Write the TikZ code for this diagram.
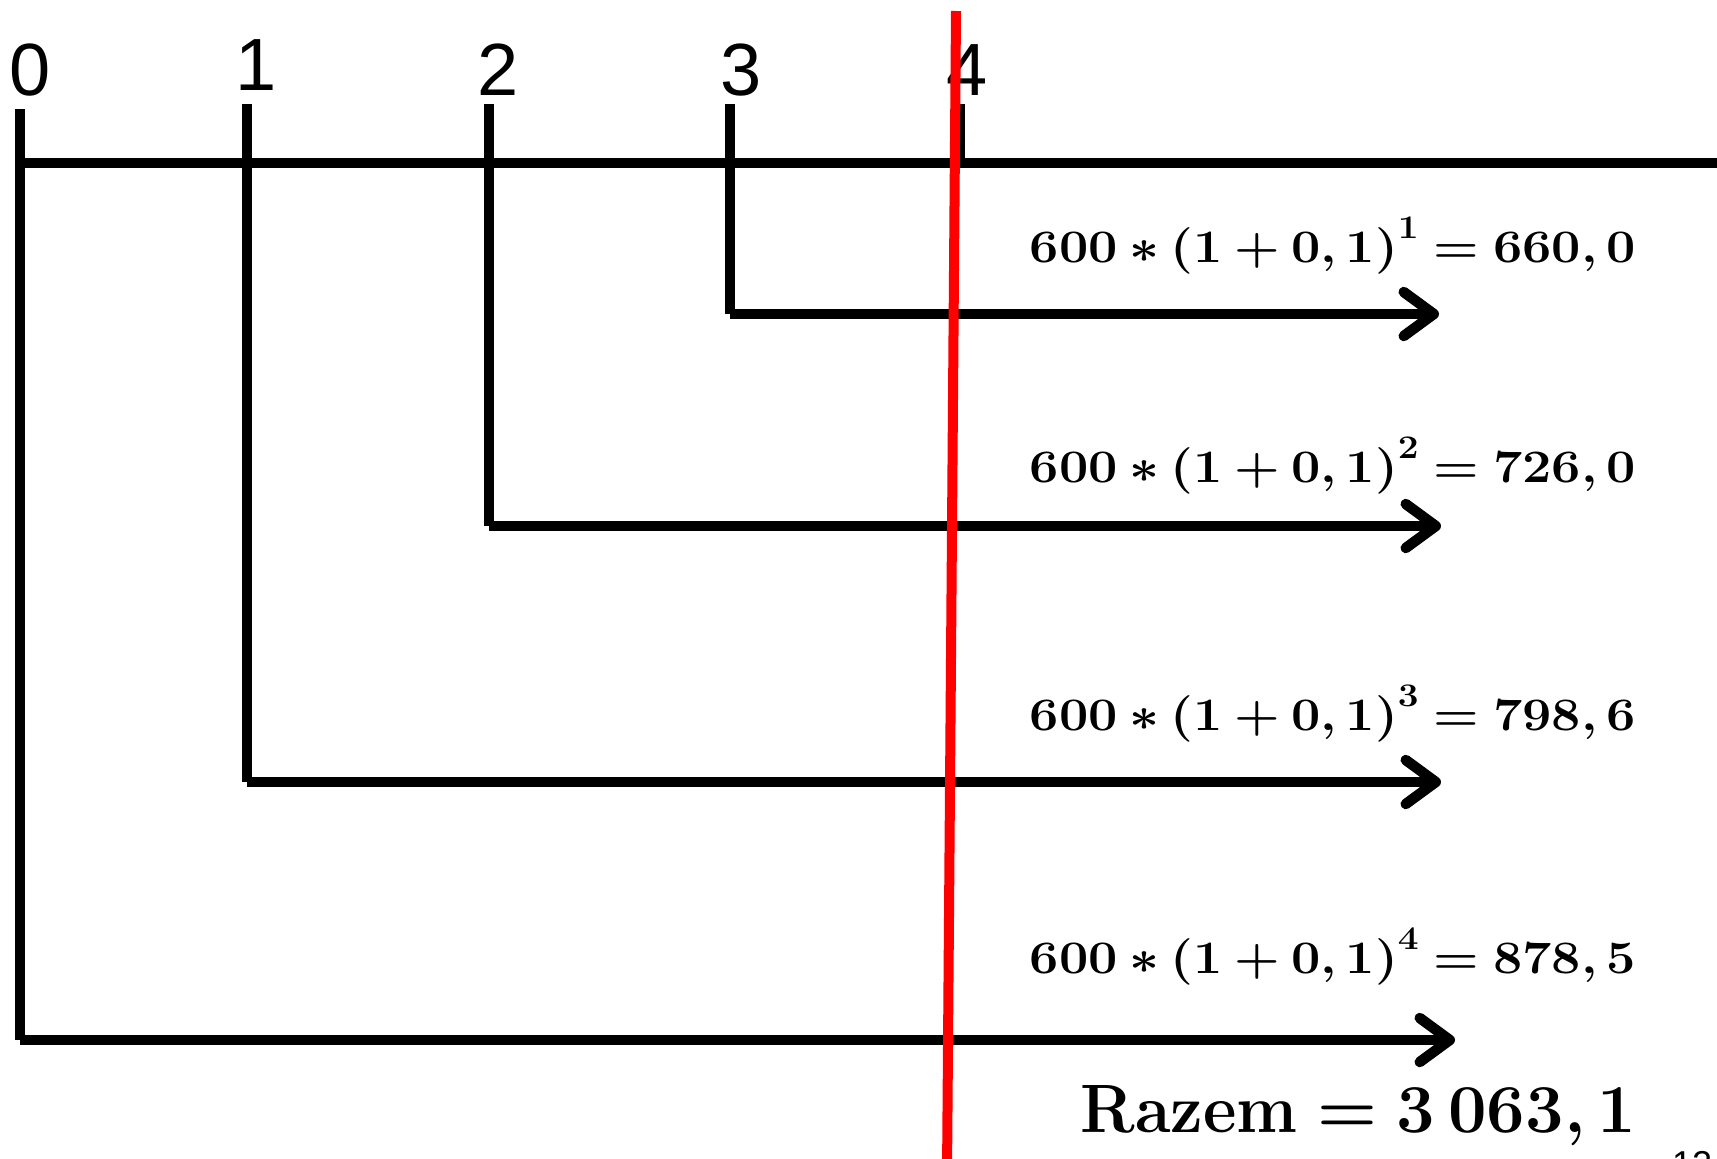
\documentclass[tikz,border=0pt]{standalone}
\usepackage{fix-cm}
\usepackage{graphicx}
\usepackage{fontspec}
\newfontfamily\arialfont{Liberation Sans}
\usetikzlibrary{arrows.meta}
\newcommand\myop[1]{\hspace{0.22em}#1\hspace{0.22em}}
\newcommand\myeq{\hspace{0.28em}=\hspace{0.28em}}
\newcommand\mysup[1]{\raisebox{24pt}{\fontsize{33}{36}\selectfont #1}}
\newcommand\myfml[2]{\scalebox{1.12}[1]{600\myop{\mbox{\boldmath$\ast$}}(1\myop{+}0,\hspace{0.17em}1)\mysup{#1}\myeq#2}}
\begin{document}
\begin{tikzpicture}[x=1pt,y=-1pt,
  ln/.style={line width=10.5pt, line cap=butt},
  arr/.style={ln, -{Straight Barb[length=30pt,width=44pt,line cap=round,line join=round]}},
  lbl/.style={font=\arialfont\fontsize{74}{80}\selectfont, anchor=base, inner sep=0pt},
  fml/.style={font=\fontsize{46.5}{52}\selectfont\bfseries, anchor=base east, inner sep=0pt},
  redln/.style={line width=10pt, red, line cap=butt}]
\fill[white] (0,0) rectangle (1717,1159);
\useasboundingbox (0,0) rectangle (1717,1159);
% axis and ticks
\coordinate (a0) at (15,163);
\coordinate (a1) at (1717,163);
\coordinate (v0t) at (20,109);  \coordinate (v0b) at (20,1040);  \coordinate (h0e) at (1455,1040);
\coordinate (v1t) at (247,104); \coordinate (v1b) at (247,782);  \coordinate (h1e) at (1441,782);
\coordinate (v2t) at (489,104); \coordinate (v2b) at (489,526);  \coordinate (h2e) at (1441,526);
\coordinate (v3t) at (730,104); \coordinate (v3b) at (730,314);  \coordinate (h3e) at (1439,314);
\coordinate (v4t) at (960,104); \coordinate (v4b) at (960,163);
\draw[ln] (a0) -- (a1);
\draw[ln] (v0t) -- (v0b); \draw[arr] (v0b) -- (h0e);
\draw[ln] (v1t) -- (v1b); \draw[arr] (v1b) -- (h1e);
\draw[ln] (v2t) -- (v2b); \draw[arr] (v2b) -- (h2e);
\draw[ln] (v3t) -- (v3b); \draw[arr] (v3b) -- (h3e);
\draw[ln] (v4t) -- (v4b);
% labels
\node[lbl] (l0) at (30,95) {0};
\node[lbl] (l1) at (256,90) {1};
\node[lbl] (l2) at (498,95) {2};
\node[lbl] (l3) at (741,95) {3};
\node[lbl] (l4) at (967,95) {4};
% formulas
\node[fml] (f3) at (1636,262) {\myfml{1}{660,\hspace{0.17em}0}};
\node[fml] (f2) at (1636,482) {\myfml{2}{726,\hspace{0.17em}0}};
\node[fml] (f1) at (1636,730) {\myfml{3}{798,\hspace{0.17em}6}};
\node[fml] (f0) at (1636,973) {\myfml{4}{878,\hspace{0.17em}5}};
\node[font=\fontsize{68.5}{76}\selectfont\bfseries, anchor=base east, inner sep=0pt] (tot) at (1636,1132) {\scalebox{0.95}[1]{Razem}\myeq 3\hspace{0.2em}063,\hspace{0.17em}1};
\node[font=\arialfont\fontsize{36}{40}\selectfont, anchor=base west, inner sep=0pt] (pg) at (1672,1176) {12};
% red line
\coordinate (r0) at (956,11);
\coordinate (r1) at (947,1175);
\draw[redln] (r0) -- (r1);
\end{tikzpicture}
\end{document}
